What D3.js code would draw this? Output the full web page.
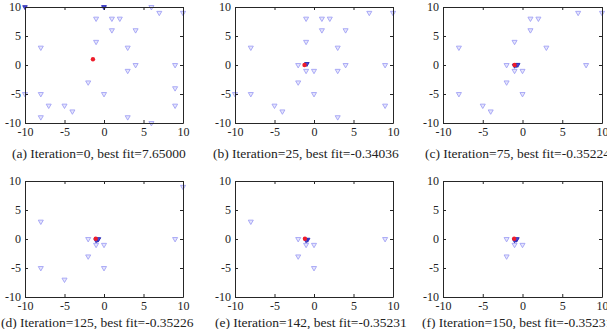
<!DOCTYPE html>
<html><head><meta charset="utf-8">
<script src="https://cdn.jsdelivr.net/npm/d3@7"></script>
<style>
html,body{margin:0;padding:0;background:#fff;}
svg{display:block;}
</style></head>
<body>
<svg id="chart" width="607" height="329"></svg>
<script>
// ---- data ----
const xTicks = [-10, -5, 0, 5, 10];
const yTicks = [-10, -5, 0, 5, 10];
const captions = [
  "(a) Iteration=0, best fit=7.65000",
  "(b) Iteration=25, best fit=-0.34036",
  "(c) Iteration=75, best fit=-0.35224",
  "(d) Iteration=125, best fit=-0.35226",
  "(e) Iteration=142, best fit=-0.35231",
  "(f) Iteration=150, best fit=-0.35231"
];
const particlesA = [[0,10],[6,10],[7,9],[10,9],[-1,8],[1,8],[2,8],[1,6],[4,6],[-1,4],[-8,3],[3,3],
  [4,0],[9,0],[3,-1],[-2,-3],[9,-4],[-10,-5],[-8,-5],[0,-5],[-7,-7],[-5,-7],[9,-7],[-4,-8],[-8,-9],[3,-9],[6,-10]];
const clusterA = [[-10,10],[0,10]];
const bestA = [[-1.4,1.0]];

const particlesB = [[7,9],[10,9],[-1,8],[1,8],[2,8],[1,6],[4,6],[-1,4],[-8,3],[3,3],[-2,0],[4,0],[9,0],
  [-1,-1],[0,-1],[3,-1],[-2,-3],[-10,-5],[-8,-5],[0,-5],[-5,-7],[9,-7],[-4,-8],[3,-9]];
const clusterB = [[-0.9,0.2]];
const bestB = [[-1.2,0]];

const particlesC = [[7,9],[10,9],[1,8],[2,8],[1,6],[-1,4],[-8,3],[3,3],[-2,0],[8,0],
  [-1,-1],[0,-1],[-2,-3],[-8,-5],[0,-5],[-5,-7],[-4,-8]];
const clusterC = [[-0.8,0],[-1,-0.1],[-0.6,0.05]];
const bestC = [[-1,0]];

const particlesD = [[10,9],[-8,3],[-2,0],[9,0],[-1,-1],[0,-1],[-2,-3],[-8,-5],[0,-5],[-5,-7]];
const clusterD = [[-0.8,-0.1],[-1,-0.2],[-0.7,0]];
const bestD = [[-1.05,0.05]];

const particlesE = [[-8,3],[-2,0],[9,0],[-1,-1],[0,-1],[-2,-3],[0,-5]];
const clusterE = [[-0.8,-0.1],[-1,-0.2]];
const bestE = [[-1.15,0.05]];

const particlesF = [[-2,0],[-1,-1],[0,-1],[-2,-3]];
const clusterF = [[-0.8,-0.1],[-1,-0.2],[-0.7,0]];
const bestF = [[-1.05,0.05]];

const particles = [particlesA, particlesB, particlesC, particlesD, particlesE, particlesF];
const clusters = [clusterA, clusterB, clusterC, clusterD, clusterE, clusterF];
const bests = [bestA, bestB, bestC, bestD, bestE, bestF];

// ---- layout ----
const colLeft = [25, 235, 443];
const colRight = [183, 393, 602];
const rowTop = [7, 181];
const rowBottom = [123, 297];
const capX = [12, 213, 425, 1, 215, 422];
const capY = [158, 158, 158, 327, 327, 327];

const svg = d3.select("#chart");
const font = "'Liberation Serif', 'Times New Roman', serif";
const tri = d3.symbol().type(d3.symbolTriangle).size(11);
const triC = d3.symbol().type(d3.symbolTriangle).size(9);

for (let i = 0; i < 6; i++) {
  const c = i % 3, r = Math.floor(i / 3);
  const x = d3.scaleLinear().domain([-10, 10]).range([colLeft[c], colRight[c]]);
  const y = d3.scaleLinear().domain([-10, 10]).range([rowBottom[r], rowTop[r]]);
  const g = svg.append("g");

  // points
  const pg = g.append("g");
  pg.selectAll("path.p").data(particles[i]).join("path")
    .attr("class", "p")
    .attr("d", tri)
    .attr("transform", d => `translate(${x(d[0])},${y(d[1])}) rotate(180)`)
    .attr("fill", "#e6e6fc")
    .attr("stroke", "#a2a2f5")
    .attr("stroke-width", 0.9);
  pg.selectAll("path.c").data(clusters[i]).join("path")
    .attr("class", "c")
    .attr("d", triC)
    .attr("transform", d => `translate(${x(d[0])},${y(d[1])}) rotate(180)`)
    .attr("fill", "#4a4ad6")
    .attr("stroke", "#2a2ab4")
    .attr("stroke-width", 0.9);
  pg.selectAll("circle").data(bests[i]).join("circle")
    .attr("cx", d => x(d[0])).attr("cy", d => y(d[1]))
    .attr("r", 2.2)
    .attr("fill", "#ee1c2a");

  // axes
  const styleAxis = sel => {
    sel.selectAll("path.domain").attr("stroke", "#262626").attr("stroke-width", 1);
    sel.selectAll(".tick line").attr("stroke", "#262626");
    sel.selectAll("text").attr("font-family", font).attr("font-size", 12).attr("fill", "#222");
  };
  g.append("g").attr("transform", `translate(0,${rowBottom[r]})`)
    .call(d3.axisBottom(x).tickValues(xTicks).tickSize(-3).tickSizeOuter(0).tickPadding(4).tickFormat(d3.format("d")))
    .call(styleAxis);
  g.append("g").attr("transform", `translate(${colLeft[c]},0)`)
    .call(d3.axisLeft(y).tickValues(yTicks).tickSize(-3).tickSizeOuter(0).tickPadding(4).tickFormat(d3.format("d")))
    .call(styleAxis);
  g.append("g").attr("transform", `translate(0,${rowTop[r]})`)
    .call(d3.axisTop(x).tickValues(xTicks).tickSize(-3).tickSizeOuter(0).tickFormat(""))
    .call(styleAxis);
  g.append("g").attr("transform", `translate(${colRight[c]},0)`)
    .call(d3.axisRight(y).tickValues(yTicks).tickSize(-3).tickSizeOuter(0).tickFormat(""))
    .call(styleAxis);
  g.selectAll("text").text(function(){ return d3.select(this).text().replace("\u2212", "-"); });

  // caption
  svg.append("text")
    .attr("x", capX[i]).attr("y", capY[i])
    .attr("font-family", font).attr("font-size", 13.5).attr("fill", "#222")
    .text(captions[i]);
}
</script>
</body></html>
